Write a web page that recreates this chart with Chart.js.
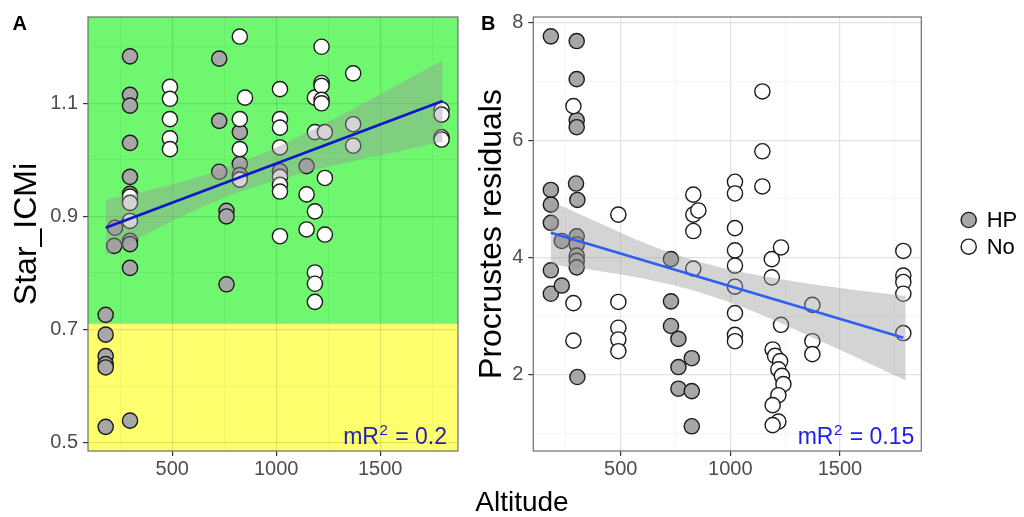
<!DOCTYPE html>
<html>
<head>
<meta charset="utf-8">
<title>Star_ICMi and Procrustes residuals by altitude</title>
<script src="https://cdn.jsdelivr.net/npm/chart.js@4.4.1/dist/chart.umd.min.js"></script>
<style>
  html, body { margin: 0; padding: 0; background: #ffffff; }
  #figure { position: relative; width: 1024px; height: 517px; overflow: hidden; background: #ffffff; }
  #chart-a { position: absolute; left: 0; top: 0; }
  #chart-b { position: absolute; left: 440px; top: 0; }
</style>
</head>
<body>
<div id="figure">
  <canvas id="chart-b" width="584" height="517"></canvas>
  <canvas id="chart-a" width="470" height="517"></canvas>
</div>
<script>
// --- Panel A: Star_ICMi vs altitude ---
const altHpA = [180, 180, 180, 180, 180, 180, 225, 221, 297, 297, 297, 297, 297, 297, 297, 297, 297, 297, 297,
  726, 726, 726, 761, 761, 761, 825, 825, 825, 1018, 1146];
const icmiHpA = [0.726, 0.691, 0.653, 0.639, 0.633, 0.528, 0.880, 0.848, 1.183, 1.115, 1.096, 1.030, 0.970, 0.940, 0.929, 0.857, 0.851, 0.809, 0.539,
  1.179, 1.069, 0.979, 0.910, 0.900, 0.780, 1.049, 0.993, 0.973, 0.980, 0.989];
const altNoA = [297, 297, 297, 489, 489, 489, 489, 489, 825, 825, 825, 825, 850,
  1018, 1018, 1018, 1018, 1018, 1018, 1018, 1018, 1146, 1146,
  1186, 1186, 1186, 1186, 1186, 1186, 1218, 1218, 1218, 1218, 1218, 1234, 1234, 1234,
  1370, 1370, 1370, 1795, 1795, 1795, 1795];
const icmiNoA = [0.935, 0.924, 0.892, 1.129, 1.108, 1.072, 1.038, 1.019, 1.218, 1.072, 1.019, 0.965, 1.110,
  1.125, 1.072, 1.057, 1.022, 0.970, 0.956, 0.944, 0.865, 0.939, 0.877,
  1.110, 1.049, 0.909, 0.801, 0.781, 0.749, 1.200, 1.136, 1.131, 1.106, 1.100, 1.049, 0.968, 0.868,
  1.153, 1.063, 1.025, 1.089, 1.080, 1.040, 1.036];
const fitAltA = [180, 1800];
const fitIcmiA = [0.880, 1.104];
const bandAltA = [180, 400, 600, 800, 1000, 1200, 1400, 1600, 1800];
const bandHiA = [0.929, 0.947, 0.967, 0.992, 1.022, 1.058, 1.096, 1.136, 1.176];
const bandLoA = [0.831, 0.873, 0.909, 0.940, 0.964, 0.984, 1.000, 1.016, 1.032];
const icmiThreshold = 0.71;
const r2TextA = '0.2';

// --- Panel B: Procrustes residuals vs altitude ---
const altHpB = [181, 181, 181, 181, 181, 181, 231, 231, 299, 299, 299, 299, 296, 302, 299, 299, 299, 299, 299, 302,
  729, 729, 729, 763, 763, 763, 824, 824, 824];
const resHpB = [7.77, 5.15, 4.90, 4.59, 3.78, 3.38, 4.28, 3.52, 7.69, 7.04, 6.34, 6.22, 5.26, 4.98, 4.36, 4.22, 4.03, 3.94, 3.83, 1.96,
  3.97, 3.25, 2.83, 2.61, 2.13, 1.76, 2.28, 1.72, 1.12];
const altNoB = [284, 284, 284, 489, 489, 489, 489, 489, 831, 831, 854, 831, 831,
  1021, 1021, 1021, 1021, 1021, 1021, 1021, 1021, 1021, 1146, 1146, 1146,
  1189, 1189, 1231, 1231, 1193, 1204, 1227, 1219, 1235, 1242, 1219, 1193, 1219, 1193,
  1374, 1374, 1374, 1789, 1789, 1789, 1789, 1789];
const resNoB = [6.58, 3.22, 2.58, 4.73, 3.24, 2.80, 2.60, 2.40, 5.07, 4.73, 4.80, 4.45, 3.81,
  5.29, 5.09, 4.50, 4.12, 3.86, 3.50, 3.05, 2.68, 2.57, 6.83, 5.81, 5.21,
  3.97, 3.66, 4.17, 2.85, 2.43, 2.32, 2.23, 2.09, 1.98, 1.84, 1.65, 1.48, 1.20, 1.14,
  3.19, 2.57, 2.35, 4.11, 3.69, 3.58, 3.38, 2.71];
const fitAltB = [181, 1789];
const fitResB = [4.42, 2.63];
const bandAltB = [180, 400, 600, 800, 1000, 1200, 1400, 1600, 1800];
const bandHiB = [4.96, 4.59, 4.26, 3.99, 3.79, 3.65, 3.53, 3.43, 3.34];
const bandLoB = [3.88, 3.77, 3.64, 3.47, 3.23, 2.93, 2.59, 2.25, 1.90];
const r2TextB = '0.15';

// --- Axis ticks (empty label = minor grid line) ---
const xTicks = [250, 500, 750, 1000, 1250, 1500, 1750];
const xTickLabels = ['', '500', '', '1000', '', '1500', ''];
const yTicksA = [0.5, 0.6, 0.7, 0.8, 0.9, 1.0, 1.1, 1.2];
const yTickLabelsA = ['0.5', '', '0.7', '', '0.9', '', '1.1', ''];
const yTicksB = [1, 2, 3, 4, 5, 6, 7, 8];
const yTickLabelsB = ['', '2', '', '4', '', '6', '', '8'];
const groupNames = ['HP', 'No'];

const FONT = "'Liberation Sans', Arial, Helvetica, sans-serif";
Chart.defaults.font.family = FONT;

const HP_FILL = '#a7a7a7';
const NO_FILL = '#ffffff';
const POINT_EDGE = '#1c1c1c';

function toPoints(xs, ys) {
  return xs.map((x, i) => ({ x: x, y: ys[i] }));
}

function buildAxis(o) {
  return {
    type: 'linear',
    min: o.min,
    max: o.max,
    afterBuildTicks: (scale) => {
      scale.ticks = o.ticks.map((v) => ({ value: v }));
    },
    afterFit: (scale) => {
      if (o.width) scale.width = o.width;
      if (o.height) scale.height = o.height;
    },
    ticks: {
      autoSkip: false,
      maxRotation: 0,
      padding: o.padding,
      color: '#4d4d4d',
      font: { size: 20 },
      callback: (value, index) => o.labels[index]
    },
    grid: {
      color: (ctx) => (o.labels[ctx.index] ? o.major : o.minor),
      lineWidth: (ctx) => (o.labels[ctx.index] ? 1.2 : 0.7),
      tickLength: 5,
      tickWidth: 1.2,
      tickColor: (ctx) => (o.labels[ctx.index] ? '#333333' : 'rgba(0,0,0,0)')
    },
    border: { display: false },
    title: o.title
      ? { display: true, text: o.title, color: '#000000', font: { size: 32 }, padding: { top: o.titleGap, bottom: 0 } }
      : { display: false }
  };
}

// fitted line + confidence ribbon + the two groups of points
// (lower order is painted later, so the ribbon sits over the points)
function buildDatasets(d) {
  return [
    { label: 'fit', order: 0, data: toPoints(d.fitX, d.fitY), showLine: true, borderColor: d.lineColor, borderWidth: 2.6,
      pointRadius: 0, fill: false },
    { label: 'ci-upper', order: 1, data: toPoints(d.bandX, d.bandHi), showLine: true, borderColor: 'rgba(0,0,0,0)', borderWidth: 0,
      backgroundColor: 'rgba(153,153,153,0.42)', pointRadius: 0, tension: 0.3, fill: '+1' },
    { label: 'ci-lower', order: 1, data: toPoints(d.bandX, d.bandLo), showLine: true, borderColor: 'rgba(0,0,0,0)', borderWidth: 0,
      pointRadius: 0, tension: 0.3, fill: false },
    { label: groupNames[1], order: 2, data: toPoints(d.noX, d.noY), showLine: false, pointRadius: 7.6, pointBorderWidth: 1.4,
      backgroundColor: NO_FILL, borderColor: POINT_EDGE, pointBackgroundColor: NO_FILL, pointBorderColor: POINT_EDGE },
    { label: groupNames[0], order: 3, data: toPoints(d.hpX, d.hpY), showLine: false, pointRadius: 7.6, pointBorderWidth: 1.4,
      backgroundColor: HP_FILL, borderColor: POINT_EDGE, pointBackgroundColor: HP_FILL, pointBorderColor: POINT_EDGE }
  ];
}

// green / yellow zones behind panel A
const zonePlugin = {
  id: 'zones',
  beforeDraw(chart, args, opts) {
    const { ctx, chartArea } = chart;
    const yCut = chart.scales.y.getPixelForValue(opts.threshold);
    ctx.save();
    ctx.fillStyle = opts.above;
    ctx.fillRect(chartArea.left, chartArea.top, chartArea.width, yCut - chartArea.top);
    ctx.fillStyle = opts.below;
    ctx.fillRect(chartArea.left, yCut, chartArea.width, chartArea.bottom - yCut);
    ctx.restore();
  }
};

// panel frame, panel letter and the mR² note
const panelPlugin = {
  id: 'panel',
  afterDatasetsDraw(chart, args, opts) {
    const { ctx, chartArea } = chart;
    ctx.save();
    ctx.strokeStyle = '#6f6f6f';
    ctx.lineWidth = 1.2;
    ctx.strokeRect(chartArea.left, chartArea.top, chartArea.width, chartArea.height);

    ctx.fillStyle = '#000000';
    ctx.font = `bold 20px ${FONT}`;
    ctx.textBaseline = 'alphabetic';
    ctx.textAlign = 'left';
    ctx.fillText(opts.letter, opts.letterX, 29.5);

    const big = `23px ${FONT}`;
    const small = `15px ${FONT}`;
    const tail = ' = ' + opts.r2;
    ctx.font = big;
    const w1 = ctx.measureText('mR').width;
    const w3 = ctx.measureText(tail).width;
    ctx.font = small;
    const w2 = ctx.measureText('2').width;
    let x = chartArea.right - opts.inset - (w1 + w2 + w3 + 1.5);
    const y = chartArea.bottom - 6.7;
    ctx.fillStyle = opts.r2Color;
    ctx.font = big;
    ctx.fillText('mR', x, y);
    x += w1 + 0.5;
    ctx.font = small;
    ctx.fillText('2', x, y - 9.5);
    x += w2 + 1;
    ctx.font = big;
    ctx.fillText(tail, x, y);
    ctx.restore();
  }
};

// shared x title and the HP / No key
const sharedPlugin = {
  id: 'shared',
  afterDraw(chart, args, opts) {
    const { ctx } = chart;
    const hp = chart.data.datasets[4];
    const no = chart.data.datasets[3];
    ctx.save();
    ctx.fillStyle = '#000000';
    ctx.textAlign = 'center';
    ctx.textBaseline = 'middle';
    ctx.font = `28px ${FONT}`;
    ctx.fillText(opts.xTitle, opts.xTitleX, opts.xTitleY);

    ctx.textAlign = 'left';
    ctx.font = `22px ${FONT}`;
    [hp, no].forEach((ds, i) => {
      const cy = opts.keyY + i * opts.keyStep;
      ctx.beginPath();
      ctx.arc(opts.keyX, cy, 7.6, 0, Math.PI * 2);
      ctx.fillStyle = ds.pointBackgroundColor;
      ctx.fill();
      ctx.lineWidth = 1.4;
      ctx.strokeStyle = ds.pointBorderColor;
      ctx.stroke();
      ctx.fillStyle = '#000000';
      ctx.fillText(ds.label, opts.keyX + 18, cy + 1);
    });
    ctx.restore();
  }
};

const baseOptions = {
  responsive: false,
  animation: false,
  events: [],
  clip: false
};

document.addEventListener('DOMContentLoaded', () => {
  // --- Panel A ---
  new Chart(document.getElementById('chart-a'), {
    type: 'scatter',
    data: {
      datasets: buildDatasets({
        fitX: fitAltA, fitY: fitIcmiA, bandX: bandAltA, bandHi: bandHiA, bandLo: bandLoA,
        hpX: altHpA, hpY: icmiHpA, noX: altNoA, noY: icmiNoA, lineColor: '#0f16c4'
      })
    },
    options: {
      ...baseOptions,
      layout: { padding: { left: 0, top: 11, right: 12, bottom: 0 } },
      plugins: {
        legend: { display: false },
        tooltip: { enabled: false },
        zones: { threshold: icmiThreshold, above: '#6ff76f', below: '#ffff6e' },
        panel: { letter: 'A', letterX: 12.5, r2: r2TextA, r2Color: '#2424ac', inset: 11 }
      },
      scales: {
        x: buildAxis({ min: 95, max: 1874, ticks: xTicks, labels: xTickLabels, height: 66, padding: 1,
          major: 'rgba(0,60,0,0.13)', minor: 'rgba(0,60,0,0.07)' }),
        y: buildAxis({ min: 0.4853, max: 1.2526, ticks: yTicksA, labels: yTickLabelsA, width: 88, padding: 5,
          major: 'rgba(0,60,0,0.13)', minor: 'rgba(0,60,0,0.07)', title: 'Star_ICMi', titleGap: 8 })
      }
    },
    plugins: [zonePlugin, panelPlugin]
  });

  // --- Panel B ---
  new Chart(document.getElementById('chart-b'), {
    type: 'scatter',
    data: {
      datasets: buildDatasets({
        fitX: fitAltB, fitY: fitResB, bandX: bandAltB, bandHi: bandHiB, bandLo: bandLoB,
        hpX: altHpB, hpY: resHpB, noX: altNoB, noY: resNoB, lineColor: '#2f5ef2'
      })
    },
    options: {
      ...baseOptions,
      layout: { padding: { left: 0, top: 11, right: 102.7, bottom: 0 } },
      plugins: {
        legend: { display: false },
        tooltip: { enabled: false },
        panel: { letter: 'B', letterX: 41, r2: r2TextB, r2Color: '#2020ee', inset: 7 },
        shared: { xTitle: 'Altitude', xTitleX: 82, xTitleY: 503, keyX: 528.7, keyY: 220, keyStep: 26.7 }
      },
      scales: {
        x: buildAxis({ min: 101, max: 1871, ticks: xTicks, labels: xTickLabels, height: 66, padding: 1,
          major: '#e2e2e2', minor: '#f0f0f0' }),
        y: buildAxis({ min: 0.698, max: 8.10, ticks: yTicksB, labels: yTickLabelsB, width: 93.3, padding: 5,
          major: '#e2e2e2', minor: '#f0f0f0', title: 'Procrustes residuals', titleGap: 33 })
      }
    },
    plugins: [panelPlugin, sharedPlugin]
  });
});
</script>
</body>
</html>
